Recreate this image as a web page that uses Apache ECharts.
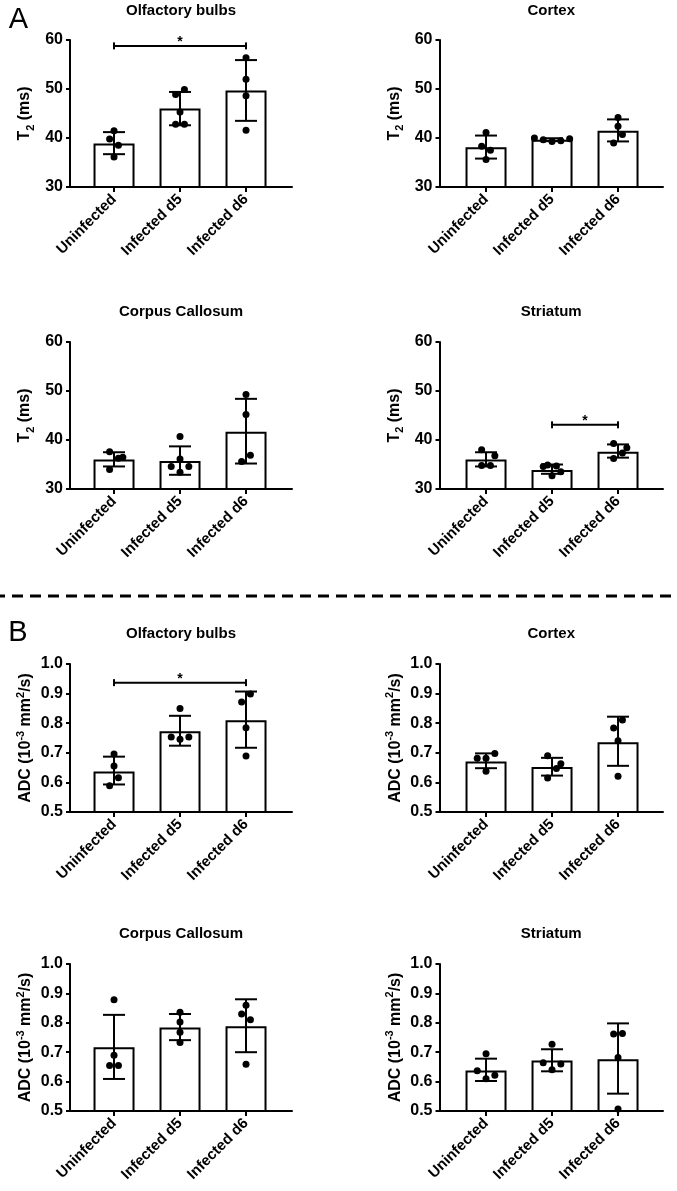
<!DOCTYPE html>
<html>
<head>
<meta charset="utf-8">
<title>T2 and ADC by region</title>
<script src="https://cdn.jsdelivr.net/npm/echarts@6/dist/echarts.min.js"></script>
<style>
  html, body { margin: 0; padding: 0; background: #fff; }
  #main { width: 677px; height: 1191px; }
</style>
</head>
<body>
<div id="main"></div>
<script>
// categories, titles, tick labels
const categories = ['Uninfected', 'Infected d5', 'Infected d6'];
const panelTitles = ['Olfactory bulbs', 'Cortex', 'Corpus Callosum', 'Striatum',
  'Olfactory bulbs', 'Cortex', 'Corpus Callosum', 'Striatum'];
const t2Ticks = [30, 40, 50, 60];
const adcTicks = [0.5, 0.6, 0.7, 0.8, 0.9, 1.0];

// A: T2 (ms)
const t2OlfMean = [38.9, 46.0, 49.7];
const t2OlfSD = [[36.7, 41.2], [42.6, 49.4], [43.5, 55.9]];
const t2OlfPts = [[41.5, 39.8, 38.5, 36.1], [48.9, 49.9, 45.3, 42.8, 42.8], [56.4, 52.0, 48.6, 41.6]];
const t2OlfSlot = [[0, -1, 1, 0], [-1, 1, 0, -1, 1], [0, 0, 0, 0]];
const t2OlfSig = [0, 2, 58.8];

const t2CtxMean = [38.1, 39.65, 41.5];
const t2CtxSD = [[35.8, 40.5], [39.35, 39.95], [39.3, 43.8]];
const t2CtxPts = [[41.1, 38.3, 37.5, 35.6], [40.0, 39.65, 39.3, 39.45, 39.85], [44.2, 42.4, 40.7, 39.0]];
const t2CtxSlot = [[0, -1, 1, 0], [-4, -2, 0, 2, 4], [0, 0, 1, -1]];

const t2CcMean = [36.0, 35.7, 41.7];
const t2CcSD = [[34.6, 37.5], [32.9, 38.7], [35.2, 48.4]];
const t2CcPts = [[37.6, 36.3, 36.5, 34.0], [40.7, 36.1, 34.6, 34.6, 33.4], [49.3, 45.2, 36.9, 35.6]];
const t2CcSlot = [[-1, 1, 2, -1], [0, 0, -2, 2, 0], [0, 0, 1, -1]];

const t2StrMean = [36.0, 33.9, 37.6];
const t2StrSD = [[34.6, 37.5], [33.1, 35.0], [36.4, 39.1]];
const t2StrPts = [[38.0, 36.8, 34.8, 34.8], [34.6, 34.9, 34.7, 32.7, 33.5], [39.3, 38.4, 37.35, 36.2]];
const t2StrSlot = [[-1, 2, -1, 1], [-2, -1, 1, 0, 2], [-1, 2, 1, -1]];
const t2StrSig = [1, 2, 43.1];

// B: ADC (10^-3 mm^2/s)
const adcOlfMean = [0.637, 0.773, 0.810];
const adcOlfSD = [[0.593, 0.687], [0.724, 0.825], [0.717, 0.907]];
const adcOlfPts = [[0.696, 0.655, 0.616, 0.589], [0.850, 0.753, 0.746, 0.753], [0.899, 0.872, 0.785, 0.689]];
const adcOlfSlot = [[0, 0, 1, -1], [0, -2, 0, 2], [1, -1, 0, 0]];
const adcOlfSig = [0, 2, 0.937];

const adcCtxMean = [0.671, 0.652, 0.736];
const adcCtxSD = [[0.648, 0.698], [0.623, 0.683], [0.656, 0.822]];
const adcCtxPts = [[0.682, 0.682, 0.698, 0.638], [0.690, 0.663, 0.647, 0.615], [0.811, 0.784, 0.741, 0.621]];
const adcCtxSlot = [[-2, 0, 2, 0], [-1, 2, 1, -1], [1, -1, 0, 0]];

const adcCcMean = [0.717, 0.784, 0.788];
const adcCcSD = [[0.609, 0.827], [0.741, 0.830], [0.700, 0.880]];
const adcCcPts = [[0.878, 0.690, 0.655, 0.655], [0.836, 0.803, 0.768, 0.733], [0.860, 0.830, 0.810, 0.659]];
const adcCcSlot = [[0, 0, -1, 1], [0, 0, 0, 0], [0, -1, 1, 0]];

const adcStrMean = [0.638, 0.672, 0.676];
const adcStrSD = [[0.602, 0.678], [0.635, 0.710], [0.559, 0.798]];
const adcStrPts = [[0.695, 0.637, 0.622, 0.610], [0.727, 0.664, 0.660, 0.640], [0.762, 0.764, 0.682, 0.507]];
const adcStrSlot = [[0, -2, 2, 0], [0, -2, 2, 0], [-1, 1, 0, 0]];

const panels = [
  { mean: t2OlfMean, sd: t2OlfSD, pts: t2OlfPts, slot: t2OlfSlot, sig: t2OlfSig, ticks: t2Ticks },
  { mean: t2CtxMean, sd: t2CtxSD, pts: t2CtxPts, slot: t2CtxSlot, sig: null, ticks: t2Ticks },
  { mean: t2CcMean, sd: t2CcSD, pts: t2CcPts, slot: t2CcSlot, sig: null, ticks: t2Ticks },
  { mean: t2StrMean, sd: t2StrSD, pts: t2StrPts, slot: t2StrSlot, sig: t2StrSig, ticks: t2Ticks },
  { mean: adcOlfMean, sd: adcOlfSD, pts: adcOlfPts, slot: adcOlfSlot, sig: adcOlfSig, ticks: adcTicks },
  { mean: adcCtxMean, sd: adcCtxSD, pts: adcCtxPts, slot: adcCtxSlot, sig: null, ticks: adcTicks },
  { mean: adcCcMean, sd: adcCcSD, pts: adcCcPts, slot: adcCcSlot, sig: null, ticks: adcTicks },
  { mean: adcStrMean, sd: adcStrSD, pts: adcStrPts, slot: adcStrSlot, sig: null, ticks: adcTicks },
];

const FONT = "'Liberation Sans', Arial, Helvetica, sans-serif";
const black = '#000';
// panel layout: [top, height] per row, [left, width, xMin] per column
const rows = [[40, 147], [342, 147], [664, 148], [964, 147]];
const cols = [[70, 222, -0.667], [439.5, 223.5, -0.705]];
const titleY = [10.5, 311.8, 633.5, 933.6];
const slotStep = 0.0667; // horizontal jitter step of the dots (category units)

const nameRich = {
  n: { fontFamily: FONT, fontWeight: 'bold', fontSize: 16, color: black, lineHeight: 22, verticalAlign: 'middle' },
  sub: { fontFamily: FONT, fontWeight: 'bold', fontSize: 11, color: black, lineHeight: 11, verticalAlign: 'bottom' },
  sup: { fontFamily: FONT, fontWeight: 'bold', fontSize: 11, color: black, lineHeight: 11, verticalAlign: 'top' },
};

const grid = [], xAxis = [], yAxis = [], title = [], series = [];

panels.forEach(function (p, i) {
  const r = rows[Math.floor(i / 2)];
  const c = cols[i % 2];
  const isT2 = p.ticks === t2Ticks;
  const pxPerUnit = 66;
  grid.push({ left: c[0], top: r[0], width: c[1], height: r[1], containLabel: false });
  title.push({
    text: panelTitles[i], left: c[0] + c[1] / 2, top: titleY[Math.floor(i / 2)],
    textAlign: 'center', textVerticalAlign: 'middle', padding: 0,
    textStyle: { fontFamily: FONT, fontWeight: 'bold', fontSize: 15, color: black },
  });
  xAxis.push({
    type: 'value', gridIndex: i,
    min: c[2], max: c[2] + c[1] / pxPerUnit,
    axisLine: { show: true, onZero: false, lineStyle: { color: black, width: 2 } },
    axisTick: { show: true, customValues: [0, 1, 2], length: 5, lineStyle: { color: black, width: 2 } },
    axisLabel: {
      customValues: [0, 1, 2], rotate: 45, margin: 10,
      formatter: function (v) { return categories[Math.round(v)]; },
      fontFamily: FONT, fontWeight: 'bold', fontSize: 15, color: black,
    },
    splitLine: { show: false },
  });
  yAxis.push({
    type: 'value', gridIndex: i,
    min: p.ticks[0], max: p.ticks[p.ticks.length - 1],
    interval: +(p.ticks[1] - p.ticks[0]).toFixed(6),
    axisLine: { show: true, onZero: false, lineStyle: { color: black, width: 2 } },
    axisTick: { show: true, length: 4, lineStyle: { color: black, width: 2 } },
    axisLabel: {
      margin: 7, fontFamily: FONT, fontWeight: 'bold', fontSize: 16, color: black,
      formatter: function (v) { return isT2 ? String(v) : v.toFixed(1); },
    },
    splitLine: { show: false },
    name: isT2 ? '{n|T}{sub|2}{n| (ms)}' : '{n|ADC (10}{sup|-3}{n| mm}{sup|2}{n|/s)}',
    nameLocation: 'middle', nameRotate: 90, nameGap: isT2 ? 34 : 33,
    nameTextStyle: { fontFamily: FONT, fontWeight: 'bold', fontSize: 16, color: black, rich: nameRich },
  });

  // bars (mean)
  series.push({
    type: 'bar', xAxisIndex: i, yAxisIndex: i, barWidth: 41, z: 2, silent: true,
    data: p.mean.map(function (v, k) { return [k, v]; }),
    itemStyle: { color: '#fff', borderColor: black, borderWidth: 2 },
  });
  // error bars (SD)
  series.push({
    type: 'custom', xAxisIndex: i, yAxisIndex: i, z: 3, silent: true,
    data: p.sd.map(function (d, k) { return [k, d[0], d[1]]; }),
    encode: { x: 0, y: [1, 2] },
    renderItem: function (params, api) {
      const lo = api.coord([api.value(0), api.value(1)]);
      const hi = api.coord([api.value(0), api.value(2)]);
      const w = 11, st = { stroke: black, lineWidth: 2 };
      return {
        type: 'group', children: [
          { type: 'line', shape: { x1: lo[0], y1: lo[1], x2: hi[0], y2: hi[1] }, style: st },
          { type: 'line', shape: { x1: hi[0] - w, y1: hi[1], x2: hi[0] + w, y2: hi[1] }, style: st },
          { type: 'line', shape: { x1: lo[0] - w, y1: lo[1], x2: lo[0] + w, y2: lo[1] }, style: st },
        ],
      };
    },
  });
  // individual animals
  const dots = [];
  p.pts.forEach(function (grp, k) {
    grp.forEach(function (v, j) { dots.push([k + p.slot[k][j] * slotStep, v]); });
  });
  series.push({
    type: 'scatter', xAxisIndex: i, yAxisIndex: i, z: 4, silent: true,
    symbolSize: 7, itemStyle: { color: black, opacity: 1 }, data: dots,
  });
  // significance bracket
  if (p.sig) {
    series.push({
      type: 'custom', xAxisIndex: i, yAxisIndex: i, z: 4, silent: true,
      data: [p.sig], encode: { x: [0, 1], y: 2 },
      renderItem: function (params, api) {
        const a = api.coord([api.value(0), api.value(2)]);
        const b = api.coord([api.value(1), api.value(2)]);
        const h = 3.5, st = { stroke: black, lineWidth: 2 };
        return {
          type: 'group', children: [
            { type: 'line', shape: { x1: a[0], y1: a[1], x2: b[0], y2: b[1] }, style: st },
            { type: 'line', shape: { x1: a[0], y1: a[1] - h, x2: a[0], y2: a[1] + h }, style: st },
            { type: 'line', shape: { x1: b[0], y1: b[1] - h, x2: b[0], y2: b[1] + h }, style: st },
            {
              type: 'text', x: (a[0] + b[0]) / 2, y: a[1] - 4,
              style: { text: '*', fill: black, font: 'bold 14px ' + FONT, align: 'center', verticalAlign: 'middle' },
            },
          ],
        };
      },
    });
  }
});

const myChart = echarts.init(document.getElementById('main'), null, { renderer: 'canvas' });
myChart.setOption({
  backgroundColor: '#fff',
  animation: false,
  title: title,
  grid: grid,
  xAxis: xAxis,
  yAxis: yAxis,
  series: series,
  graphic: [
    { type: 'text', x: 18.5, y: 20, style: { text: 'A', font: '29px ' + FONT, fill: black, align: 'center', verticalAlign: 'middle' } },
    { type: 'text', x: 18, y: 632.5, style: { text: 'B', font: '29px ' + FONT, fill: black, align: 'center', verticalAlign: 'middle' } },
    {
      type: 'line', shape: { x1: 0, y1: 596, x2: 677, y2: 596 },
      style: { stroke: black, lineWidth: 3, lineDash: [11, 7], lineDashOffset: 6 },
    },
  ],
});
</script>
</body>
</html>
